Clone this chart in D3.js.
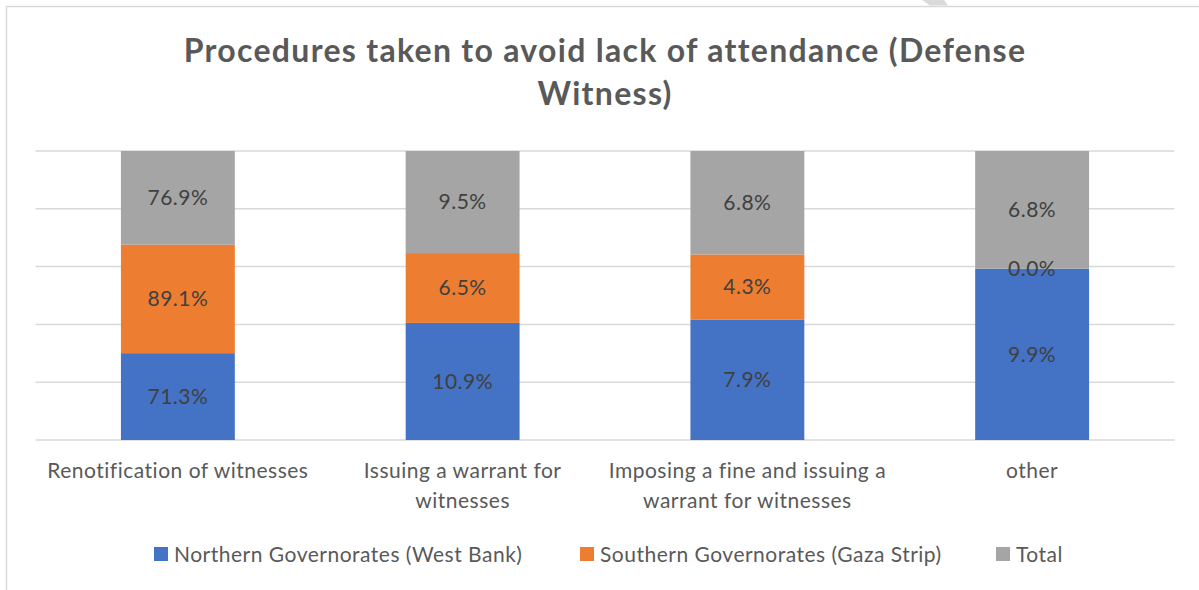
<!DOCTYPE html>
<html>
<head>
<meta charset="utf-8">
<script src="https://cdn.jsdelivr.net/npm/d3@7"></script>
<style>
  html, body { margin: 0; padding: 0; background: #fff; }
  svg { display: block; }
  text { font-family: Lato, "Open Sans", sans-serif; }
</style>
</head>
<body>
<svg id="chart" width="1199" height="590"></svg>
<script>
// Categories along the x axis (wrapped lines)
const categories = [
  "Renotification of witnesses",
  "Issuing a warrant for witnesses",
  "Imposing a fine and issuing a warrant for witnesses",
  "other"
];
const categoryLines = [
  ["Renotification of witnesses"],
  ["Issuing a warrant for", "witnesses"],
  ["Imposing a fine and issuing a", "warrant for witnesses"],
  ["other"]
];

// Series values (percent), stacked to 100% per category
const seriesNames = ["Northern Governorates (West Bank)", "Southern Governorates (Gaza Strip)", "Total"];
const northern = [71.3, 10.9, 7.9, 9.9];
const southern = [89.1, 6.5, 4.3, 0.0];
const total    = [76.9, 9.5, 6.8, 6.8];
const colors = ["#4472C4", "#ED7D31", "#A5A5A5"];

const gridTicks = [0, 0.2, 0.4, 0.6, 0.8, 1.0];

const rows = categories.map((c, i) => ({
  cat: c, s0: northern[i], s1: southern[i], s2: total[i]
}));
const keys = ["s0", "s1", "s2"];
const stacked = d3.stack().keys(keys).offset(d3.stackOffsetExpand)(rows);

const svg = d3.select("#chart");
const W = 1199, H = 590;
const plot = { left: 35.5, right: 1174.5, top: 151, bottom: 440 };

// Chart frame
svg.append("rect").attr("x", 6.5).attr("y", 6.5).attr("width", W + 10).attr("height", H + 10)
  .attr("fill", "#fff").attr("stroke", "#D9D9D9").attr("stroke-width", 1.5);
// small grey fragment at the top edge
svg.append("path").attr("d", "M922,0 L944,0 L948,5.5 L930,5.5 Z").attr("fill", "#DADADA");

// Title
const title = svg.append("text")
  .attr("x", 605).attr("text-anchor", "middle")
  .attr("fill", "#595959").attr("font-size", 32).attr("font-weight", 700)
  .attr("letter-spacing", 1.3);
title.append("tspan").attr("x", 605).attr("y", 62).text("Procedures taken to avoid lack of attendance (Defense");
title.append("tspan").attr("x", 605).attr("y", 105).text("Witness)");

const x = d3.scaleBand().domain(categories).range([plot.left, plot.right])
  .paddingInner(0.6).paddingOuter(0.3);
const y = d3.scaleLinear().domain([0, 1]).range([plot.bottom, plot.top]);

// Gridlines
svg.append("g").selectAll("line").data(gridTicks).join("line")
  .attr("x1", plot.left).attr("x2", plot.right)
  .attr("y1", d => y(d)).attr("y2", d => y(d))
  .attr("stroke", "#D9D9D9").attr("stroke-width", 1.5);

// Bars
const layers = svg.append("g").selectAll("g").data(stacked).join("g")
  .attr("fill", (d, i) => colors[i]);
layers.selectAll("rect").data(d => d).join("rect")
  .attr("x", d => x(d.data.cat))
  .attr("width", x.bandwidth())
  .attr("y", d => y(d[1]))
  .attr("height", d => y(d[0]) - y(d[1]));

// Data labels
const labels = svg.append("g");
stacked.forEach((layer, li) => {
  layer.forEach(d => {
    labels.append("text")
      .attr("x", x(d.data.cat) + x.bandwidth() / 2)
      .attr("y", (y(d[0]) + y(d[1])) / 2)
      .attr("dy", "0.35em")
      .attr("text-anchor", "middle")
      .attr("font-size", 21)
      .attr("letter-spacing", 0.5)
      .attr("fill", "#404040")
      .text(d.data[keys[li]].toFixed(1) + "%");
  });
});

// Category axis labels
const axis = svg.append("g");
categories.forEach((c, i) => {
  const t = axis.append("text")
    .attr("text-anchor", "middle")
    .attr("font-size", 21).attr("letter-spacing", 0.5).attr("fill", "#595959");
  categoryLines[i].forEach((line, j) => {
    t.append("tspan")
      .attr("x", x(c) + x.bandwidth() / 2)
      .attr("y", 478 + j * 30)
      .text(line);
  });
});

// Legend
const legendX = [154, 580, 996];
const legend = svg.append("g");
seriesNames.forEach((name, i) => {
  legend.append("rect").attr("x", legendX[i]).attr("y", 547)
    .attr("width", 14).attr("height", 14).attr("fill", colors[i]);
  legend.append("text").attr("x", legendX[i] + 20).attr("y", 562)
    .attr("font-size", 21).attr("letter-spacing", 0.5)
    .attr("fill", "#595959").text(name);
});
</script>
</body>
</html>
